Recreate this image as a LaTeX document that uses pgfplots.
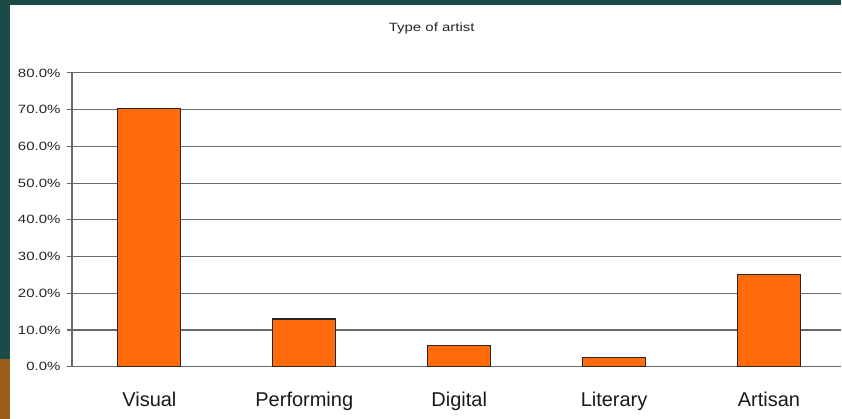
\documentclass[border=0pt]{standalone}
\usepackage{pgfplots}
\pgfplotsset{compat=1.18}
\usepackage{fontspec}
\setmainfont{Liberation Sans}
\newfontfamily\stretched[FakeStretch=1.25]{Liberation Sans}
\definecolor{bgteal}{HTML}{1C4A48}
\definecolor{bgbrown}{HTML}{9A5E1C}
\definecolor{barorange}{HTML}{FF6A0A}
\definecolor{gridgray}{HTML}{686868}
\begin{document}
\begin{tikzpicture}[x=1pt,y=1pt]
\fill[bgteal] (0,0) rectangle (842,419);
\fill[bgbrown] (0,0) rectangle (10,60);
\fill[white] (10,0) rectangle (842,414);
\node[font=\stretched\fontsize{12}{12}\selectfont, text=black!85] at (432,391) {Type of artist};
\begin{axis}[
  at={(72pt,52pt)}, anchor=south west,
  scale only axis,
  width=770pt, height=294pt,
  xmin=-0.5, xmax=4.468,
  ymin=0, ymax=80,
  axis x line*=bottom, axis y line*=left,
  axis line style={gridgray, line width=1.1pt, -},
  ytick={0,10,...,80},
  yticklabels={0.0\%,10.0\%,20.0\%,30.0\%,40.0\%,50.0\%,60.0\%,70.0\%,80.0\%},
  yticklabel style={font=\stretched\fontsize{12}{12}\selectfont, text=black!85, xshift=-3pt},
  ymajorgrids,
  grid style={gridgray, line width=1.1pt},
  ytick style={gridgray, line width=1.1pt},
  major tick length=5pt,
  tick align=outside,
  xtick={0,1,2,3,4},
  xticklabels={Visual,Performing,Digital,Literary,Artisan},
  xticklabel style={font=\fontsize{20}{20}\selectfont, text=black!90, yshift=-17pt},
  xtick style={draw=none},
  extra x ticks={-0.5,0.5,1.5,2.5,3.5},
  extra x tick labels={},
  extra x tick style={grid=none, tick style={gridgray, line width=1.1pt}},
  clip=false,
]
\addplot[ybar, bar width=63pt, fill=barorange, draw=black!85, line width=1.1pt]
  coordinates {(0,70.3) (1,13.0) (2,5.8) (3,2.4) (4,25.2)};
\end{axis}
\end{tikzpicture}
\end{document}
